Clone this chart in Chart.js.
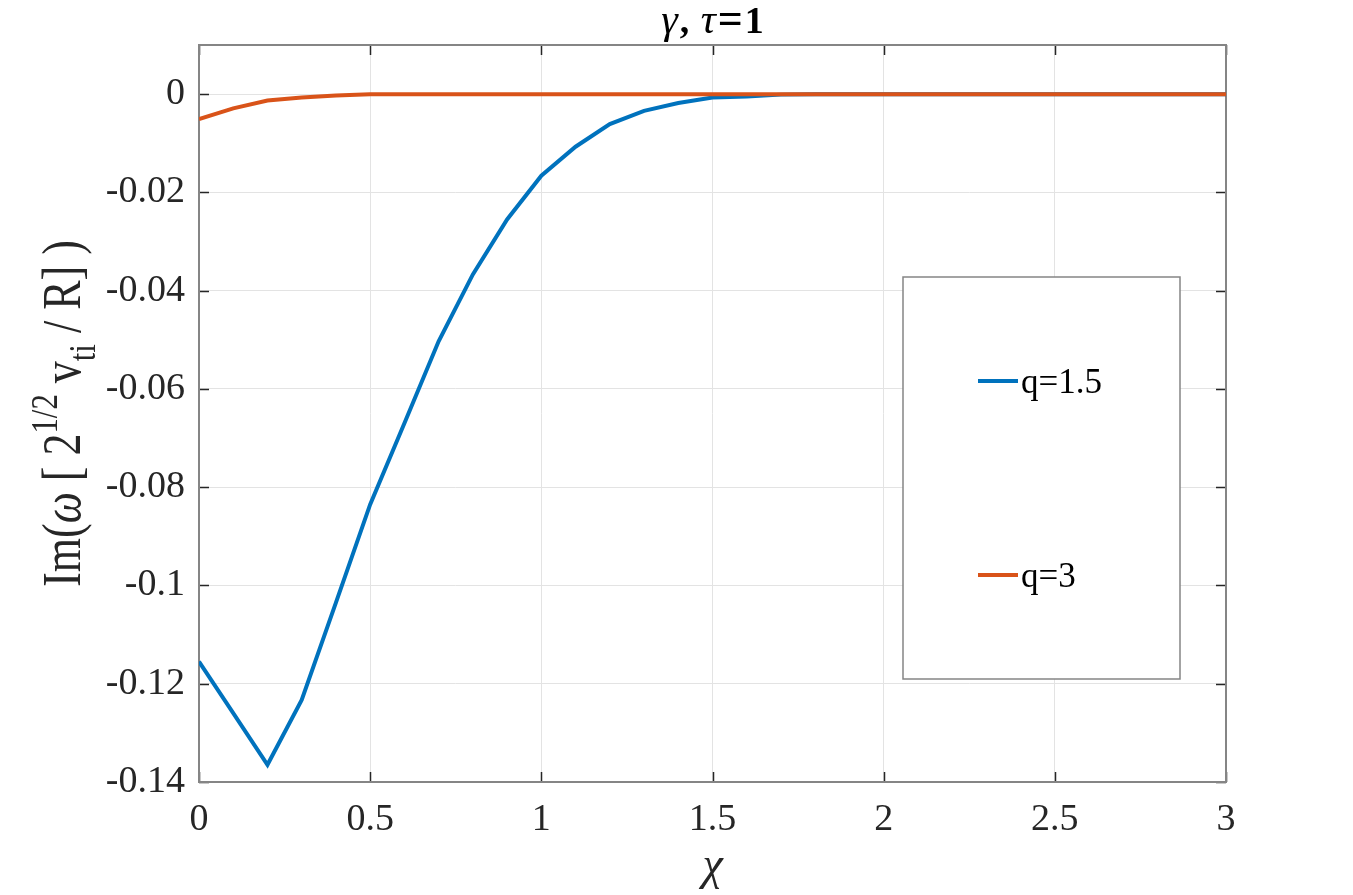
<!DOCTYPE html>
<html>
<head>
<meta charset="utf-8">
<script src="https://cdn.jsdelivr.net/npm/chart.js@4/dist/chart.umd.min.js"></script>
<style>
  html, body { margin: 0; padding: 0; background: #fff; }
  #wrap { width: 1353px; height: 895px; }
</style>
</head>
<body>
<div id="wrap"><canvas id="growth-chart" width="1353" height="895"></canvas></div>
<script>
// chi values (x axis)
const chi = [0, 0.1, 0.2, 0.3, 0.4, 0.5, 0.6, 0.7, 0.8, 0.9,
             1.0, 1.1, 1.2, 1.3, 1.4, 1.5, 1.6, 1.7, 1.8, 1.9,
             2.0, 2.1, 2.2, 2.3, 2.4, 2.5, 2.6, 2.7, 2.8, 2.9, 3.0];

// Im(omega) for q=1.5
const q15 = [-0.1155, -0.126, -0.1365, -0.1233, -0.1035, -0.0835, -0.067, -0.0503, -0.0367, -0.0255,
             -0.0166, -0.0107, -0.0061, -0.0034, -0.0018, -0.0007, -0.0005, -0.0001, 0, 0,
             0, 0, 0, 0, 0, 0, 0, 0, 0, 0, 0];

// Im(omega) for q=3
const q3 = [-0.0051, -0.0029, -0.0013, -0.0007, -0.0003, 0, 0, 0, 0, 0,
            0, 0, 0, 0, 0, 0, 0, 0, 0, 0,
            0, 0, 0, 0, 0, 0, 0, 0, 0, 0, 0];

const xTicks = [0, 0.5, 1, 1.5, 2, 2.5, 3];
const yTicks = [-0.14, -0.12, -0.1, -0.08, -0.06, -0.04, -0.02, 0];
const seriesNames = ['q=1.5', 'q=3'];

const BLUE = '#0072BD';
const ORANGE = '#D95319';
const SERIF = '"Liberation Serif", "Times New Roman", serif';

function pts(ys) {
  return chi.map((x, i) => ({ x: x, y: ys[i] }));
}

function fmt(v) {
  const s = String(+v.toFixed(2));
  return s === '-0' ? '0' : s;
}

// draws pieces of text one after the other, returns nothing
function drawRun(ctx, parts, x0, y0) {
  let w = 0;
  parts.forEach(p => { ctx.font = p.f; p.w = ctx.measureText(p.t).width + (p.gap || 0); w += p.w; });
  let x = x0 - w / 2;
  parts.forEach(p => { ctx.font = p.f; ctx.fillText(p.t, x + (p.gap || 0) / 2, y0 + (p.dy || 0)); x += p.w; });
}

// box, inward ticks, title, axis labels, legend
const matlabLook = {
  id: 'matlabLook',
  beforeDatasetsDraw(chart) {
    const { ctx, chartArea: a, scales } = chart;
    ctx.save();
    // inward ticks on all four sides
    ctx.strokeStyle = '#262626';
    ctx.lineWidth = 1.5;
    const tl = 10;
    xTicks.forEach(v => {
      const px = Math.round(scales.x.getPixelForValue(v)) + 0.5;
      ctx.beginPath();
      ctx.moveTo(px, a.bottom); ctx.lineTo(px, a.bottom - tl);
      ctx.moveTo(px, a.top); ctx.lineTo(px, a.top + tl);
      ctx.stroke();
    });
    yTicks.forEach(v => {
      const py = Math.round(scales.y.getPixelForValue(v)) + 0.5;
      ctx.beginPath();
      ctx.moveTo(a.left, py); ctx.lineTo(a.left + tl, py);
      ctx.moveTo(a.right, py); ctx.lineTo(a.right - tl, py);
      ctx.stroke();
    });
    // frame
    ctx.strokeStyle = '#858585';
    ctx.lineWidth = 2;
    ctx.strokeRect(a.left, a.top, a.right - a.left, a.bottom - a.top);
    ctx.restore();
  },
  afterDraw(chart) {
    const { ctx, chartArea: a } = chart;
    const cx = (a.left + a.right) / 2;
    ctx.save();
    ctx.fillStyle = '#000';
    ctx.textBaseline = 'alphabetic';

    // title: gamma, tau=1
    drawRun(ctx, [
      { t: 'γ', f: 'italic 42px ' + SERIF },
      { t: ', ', f: 'bold 38px ' + SERIF, gap: 4 },
      { t: 'τ', f: 'italic 42px ' + SERIF },
      { t: '=', f: 'bold 44px ' + SERIF, gap: 4 },
      { t: '1', f: 'bold 38px ' + SERIF }
    ], cx, 33);

    // x label
    ctx.fillStyle = '#262626';
    ctx.font = 'italic 46px ' + SERIF;
    ctx.textAlign = 'center';
    ctx.fillText('χ', cx, 879);
    ctx.textAlign = 'left';

    // y label with super/subscript
    const F = 44;
    ctx.translate(80, (a.top + a.bottom) / 2);
    ctx.rotate(-Math.PI / 2);
    ctx.scale(1, 1.25);
    drawRun(ctx, [
      { t: 'Im(', f: F + 'px ' + SERIF },
      { t: 'ω', f: 'italic ' + F + 'px ' + SERIF },
      { t: ' [ 2', f: F + 'px ' + SERIF },
      { t: '1/2', f: (F * 0.7) + 'px ' + SERIF, dy: -0.42 * F },
      { t: ' v', f: F + 'px ' + SERIF },
      { t: 'ti', f: (F * 0.7) + 'px ' + SERIF, dy: 0.28 * F },
      { t: ' / R] )', f: F + 'px ' + SERIF }
    ], 0, 0);
    ctx.restore();

    // legend box
    ctx.save();
    const lx0 = 903, ly0 = 277, lx1 = 1180, ly1 = 679;
    ctx.fillStyle = '#fff';
    ctx.fillRect(lx0, ly0, lx1 - lx0, ly1 - ly0);
    ctx.strokeStyle = '#858585';
    ctx.lineWidth = 1.5;
    ctx.strokeRect(lx0, ly0, lx1 - lx0, ly1 - ly0);
    const rows = [381, 575];
    ctx.font = '35px ' + SERIF;
    ctx.textBaseline = 'middle';
    chart.data.datasets.forEach((ds, i) => {
      ctx.strokeStyle = ds.borderColor;
      ctx.lineWidth = 4;
      ctx.beginPath();
      ctx.moveTo(978, rows[i]); ctx.lineTo(1018, rows[i]);
      ctx.stroke();
      ctx.fillStyle = '#000';
      ctx.fillText(ds.label, 1021, rows[i] + 3);
    });
    ctx.restore();
  }
};

const ctx = document.getElementById('growth-chart');

new Chart(ctx, {
  type: 'line',
  data: {
    datasets: [
      {
        label: seriesNames[0],
        data: pts(q15),
        borderColor: BLUE,
        borderWidth: 4,
        pointRadius: 0,
        tension: 0,
        order: 2
      },
      {
        label: seriesNames[1],
        data: pts(q3),
        borderColor: ORANGE,
        borderWidth: 4,
        pointRadius: 0,
        tension: 0,
        order: 1
      }
    ]
  },
  plugins: [matlabLook],
  options: {
    responsive: false,
    animation: false,
    events: [],
    layout: { padding: { left: 0, top: 45, right: 127, bottom: 0 } },
    plugins: {
      legend: { display: false },
      title: { display: false },
      tooltip: { enabled: false }
    },
    scales: {
      x: {
        type: 'linear',
        min: 0,
        max: 3,
        afterBuildTicks: s => { s.ticks = xTicks.map(v => ({ value: v })); },
        afterFit: s => { s.height = 113; },
        grid: { color: '#e3e3e3', lineWidth: 1, drawTicks: false },
        border: { display: false },
        ticks: {
          padding: 15,
          maxRotation: 0,
          autoSkip: false,
          color: '#262626',
          font: { family: SERIF, size: 38 },
          callback: v => fmt(v)
        }
      },
      y: {
        type: 'linear',
        min: -0.14,
        max: 0.01,
        afterBuildTicks: s => { s.ticks = yTicks.map(v => ({ value: v })); },
        afterFit: s => { s.width = 199; },
        grid: { color: '#e3e3e3', lineWidth: 1, drawTicks: false },
        border: { display: false },
        ticks: {
          padding: 14,
          autoSkip: false,
          color: '#262626',
          font: { family: SERIF, size: 38 },
          callback: v => fmt(v)
        }
      }
    }
  }
});
</script>
</body>
</html>
